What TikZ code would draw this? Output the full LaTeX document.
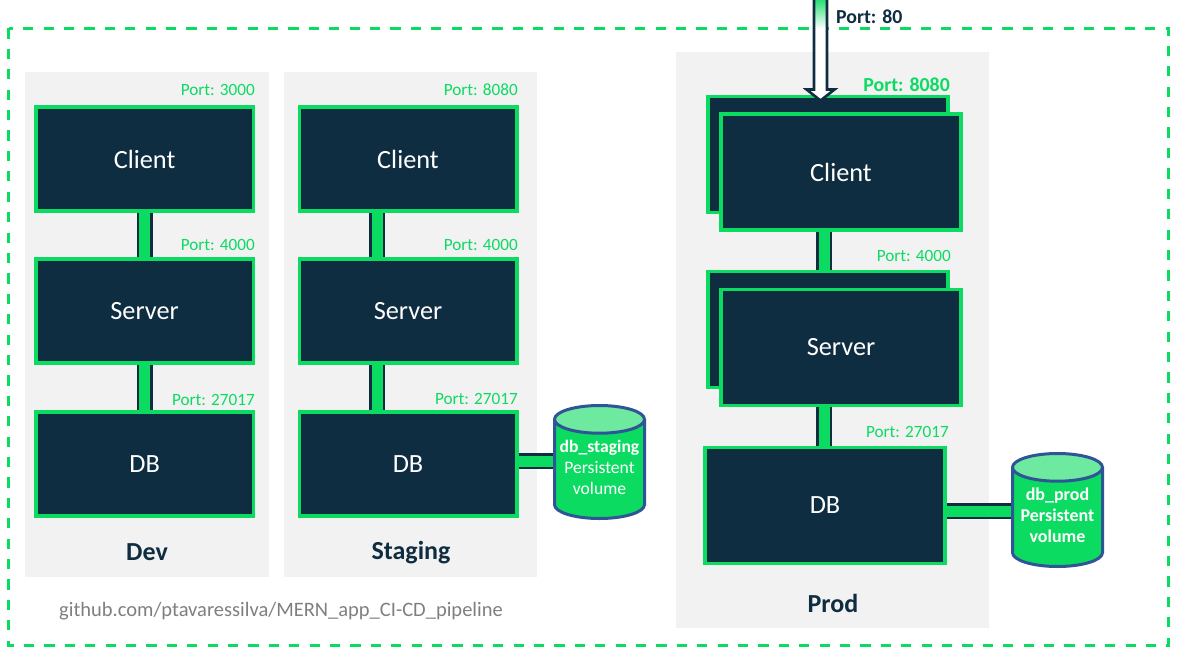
\documentclass[tikz,border=0pt]{standalone}
\usepackage{fontspec}
\setmainfont{Carlito}
\usetikzlibrary{calc,backgrounds,shapes.geometric}
\definecolor{navy}{HTML}{0F2D40}
\definecolor{lime}{HTML}{0CDB62}
\definecolor{limetop}{HTML}{6EE9A0}
\definecolor{panelgray}{HTML}{F2F2F2}
\definecolor{cylblue}{HTML}{2F5597}
\definecolor{urlgray}{HTML}{7F7F7F}
\pgfdeclareverticalshading{inletfade}{100bp}{color(0bp)=(white);color(60bp)=(white);color(76bp)=(lime);color(100bp)=(lime)}
\tikzset{
  x=1pt,y=-1pt,
  svc/.style={draw=lime,line width=3.6pt,fill=navy,text=white,inner sep=0,outer sep=0,font=\fontsize{26.3}{30}\selectfont},
  small/.style={svc,minimum width=217.4pt,minimum height=104pt},
  large/.style={svc,minimum width=240.4pt,minimum height=116pt},
  port/.style={anchor=east,inner sep=0,text=lime,font=\fontsize{17.2}{20}\selectfont},
  portbold/.style={port,font=\fontsize{19.8}{22}\selectfont\bfseries},
  envlabel/.style={inner sep=0,text=navy,font=\fontsize{26}{28}\selectfont\bfseries},
  link/.style={line width=2.5pt,draw=navy,double=lime,double distance=11pt},
  vol/.style={cylinder,shape border rotate=90,shape aspect=0.36,draw=cylblue,line width=3pt,
    cylinder uses custom fill,cylinder body fill=lime,cylinder end fill=limetop,anchor=shape center,
    minimum width=90pt,minimum height=113pt,inner sep=0,outer sep=0},
  vollabel/.style={inner sep=0,text=white,align=center,font=\fontsize{17.6}{21}\selectfont},
  frame/.style={draw=lime,line width=3pt,dash pattern=on 10.2pt off 10.2pt},
  inlet/.style={draw=navy,line width=2.6pt,miter limit=10,shading=inletfade},
}
\begin{document}
\begin{tikzpicture}
\useasboundingbox (0,0) rectangle (1177,655);
\draw[frame] (8.5,28.5) rectangle (1168.5,645.5);
% panels
\begin{scope}[on background layer]
\fill[panelgray] (25,72) rectangle (269,577);
\fill[panelgray] (284,72) rectangle (537,577);
\fill[panelgray] (676,52) rectangle (989,628);
\end{scope}
% Dev
\node[small] (devclient) at (144.6,159) {Client};
\node[small] (devserver) at (144.6,311) {Server};
\node[small] (devdb) at (144.6,464) {DB};
\node[port] (devp1) at (255,90) {Port: 3000};
\node[port] (devp2) at (255,245) {Port: 4000};
\node[port] (devp3) at (255,400) {Port: 27017};
\node[envlabel] (devlabel) at (147,552.5) {Dev};
% Staging
\node[small] (stclient) at (408,159) {Client};
\node[small] (stserver) at (408,311) {Server};
\node[small] (stdb) at (408,464) {DB};
\node[port] (stp1) at (518,90) {Port: 8080};
\node[port] (stp2) at (518,245) {Port: 4000};
\node[port] (stp3) at (518,399) {Port: 27017};
\node[envlabel] (stlabel) at (411,552.5) {Staging};
\node[vol] (stvol) at (599.5,462) {\phantom{\rule{77pt}{63pt}}};
\node[vollabel] (stvoltext) at (599.5,467.5) {\textbf{db\_staging}\\Persistent\\volume};
% Prod
\node[large] (prclientb) at (828,154.5) {};
\node[portbold] (prp1) at (950,84.5) {Port: 8080};
\coordinate (inlettop) at (820.5,0);
\coordinate (inlettip) at ($(prclientb.north -| inlettop)+(0,4)$);
\draw[inlet] ($(inlettop)+(-6.5,-2)$) -- ($(inlettop)+(6.5,-2)$) -- ($(inlettip)+(6.5,-11)$) -- ($(inlettip)+(14,-11)$) -- (inlettip) -- ($(inlettip)+(-14,-11)$) -- ($(inlettip)+(-6.5,-11)$) -- cycle;
\node[inner sep=0,anchor=west,text=navy,font=\fontsize{19.8}{22}\selectfont\bfseries] (prp0) at (836,16.5) {Port: 80};
\node[large] (prclient) at (841,172) {Client};
\node[large] (prserverb) at (828,329.5) {};
\node[large] (prserver) at (841,347.5) {Server};
\node[large] (prdb) at (825,505.5) {DB};
\node[port] (prp2) at (951,255.5) {Port: 4000};
\node[port] (prp3) at (949,432) {Port: 27017};
\node[envlabel] (prlabel) at (833,603) {Prod};
\node[vol] (prvol) at (1057.5,510) {\phantom{\rule{77pt}{63pt}}};
\node[vollabel,font=\fontsize{18}{21}\selectfont\bfseries] (prvoltext) at (1057.5,515) {db\_prod\\Persistent\\volume};
% url
\node[inner sep=0,anchor=west,text=urlgray,font=\fontsize{20.5}{24}\selectfont] (url) at (59,611) {github.com/ptavaressilva/MERN\_app\_CI-CD\_pipeline};
% connectors
\begin{scope}[on background layer]
\draw[link] (devclient.south) -- (devserver.north);
\draw[link] (devserver.south) -- (devdb.north);
\draw[link] ([xshift=-31pt]stclient.south) -- ([xshift=-31pt]stserver.north);
\draw[link] ([xshift=-31pt]stserver.south) -- ([xshift=-31pt]stdb.north);
\draw[link] ([xshift=-17pt]prclient.south) -- ([xshift=-17pt]prserver.north);
\draw[link] ([xshift=-17pt]prserver.south) -- ($(prserver.south |- prdb.north)+(-17,0)$);
\draw[link] ([yshift=3pt]stdb.east) -- ([yshift=3pt]stdb.east -| stvol.west);
\draw[link] ([yshift=-5.5pt]prdb.east) -- ([yshift=-5.5pt]prdb.east -| prvol.west);
\end{scope}
\end{tikzpicture}
\end{document}
